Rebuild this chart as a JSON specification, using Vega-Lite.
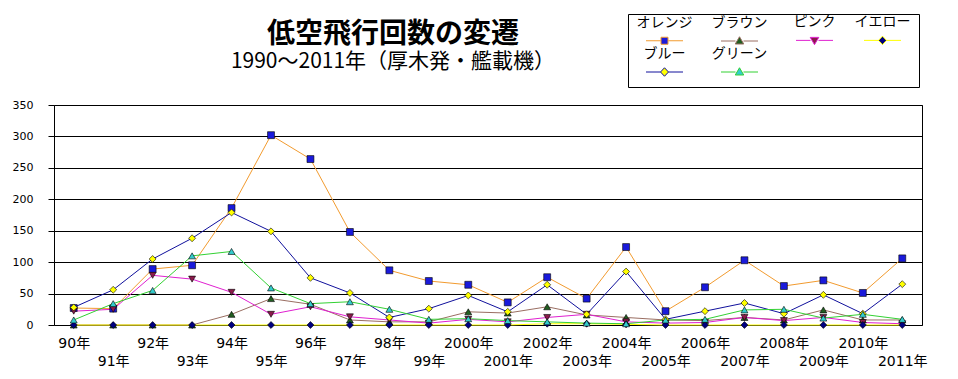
{
  "$schema": "https://vega.github.io/schema/vega-lite/v6.json",
  "width": 868,
  "height": 220,
  "autosize": "none",
  "padding": {"left": 54, "top": 105, "right": 36, "bottom": 54},
  "background": "white",
  "title": {
    "text": "低空飛行回数の変遷",
    "subtitle": "1990～2011年（厚木発・艦載機）",
    "anchor": "middle",
    "dx": -95,
    "offset": -58,
    "font": "Noto Sans CJK JP",
    "fontSize": 28,
    "fontWeight": "bold",
    "color": "black",
    "subtitleFont": "Noto Sans CJK JP",
    "subtitleFontSize": 21,
    "subtitleColor": "black",
    "subtitlePadding": 2
  },
  "data": {
    "values": [
      {"year": "90年", "オレンジ": 27, "ブラウン": 0, "ピンク": 22, "イエロー": 0, "ブルー": 28, "グリーン": 8},
      {"year": "91年", "オレンジ": 26, "ブラウン": 0, "ピンク": 25, "イエロー": 0, "ブルー": 56, "グリーン": 34},
      {"year": "92年", "オレンジ": 89, "ブラウン": 0, "ピンク": 79, "イエロー": 0, "ブルー": 105, "グリーン": 55},
      {"year": "93年", "オレンジ": 95, "ブラウン": 0, "ピンク": 73, "イエロー": 0, "ブルー": 138, "グリーン": 110},
      {"year": "94年", "オレンジ": 186, "ブラウン": 17, "ピンク": 52, "イエロー": 0, "ブルー": 179, "グリーン": 117},
      {"year": "95年", "オレンジ": 302, "ブラウン": 42, "ピンク": 17, "イエロー": 0, "ブルー": 149, "グリーン": 59},
      {"year": "96年", "オレンジ": 264, "ブラウン": 33, "ピンク": 29, "イエロー": 0, "ブルー": 75, "グリーン": 34},
      {"year": "97年", "オレンジ": 148, "ブラウン": 8, "ピンク": 13, "イエロー": 0, "ブルー": 51, "グリーン": 37},
      {"year": "98年", "オレンジ": 87, "ブラウン": 5, "ピンク": 8, "イエロー": 0, "ブルー": 12, "グリーン": 25},
      {"year": "99年", "オレンジ": 70, "ブラウン": 5, "ピンク": 3, "イエロー": 0, "ブルー": 26, "グリーン": 9},
      {"year": "2000年", "オレンジ": 64, "ブラウン": 21, "ピンク": 9, "イエロー": 0, "ブルー": 47, "グリーン": 10},
      {"year": "2001年", "オレンジ": 36, "ブラウン": 19, "ピンク": 5, "イエロー": 0, "ブルー": 21, "グリーン": 7},
      {"year": "2002年", "オレンジ": 76, "ブラウン": 29, "ピンク": 12, "イエロー": 2, "ブルー": 64, "グリーン": 5},
      {"year": "2003年", "オレンジ": 42, "ブラウン": 16, "ピンク": 17, "イエロー": 2, "ブルー": 17, "グリーン": 3},
      {"year": "2004年", "オレンジ": 124, "ブラウン": 12, "ピンク": 5, "イエロー": 1, "ブルー": 85, "グリーン": 2},
      {"year": "2005年", "オレンジ": 22, "ブラウン": 8, "ピンク": 3, "イエロー": 0, "ブルー": 9, "グリーン": 8},
      {"year": "2006年", "オレンジ": 60, "ブラウン": 7, "ピンク": 4, "イエロー": 0, "ブルー": 22, "グリーン": 9},
      {"year": "2007年", "オレンジ": 103, "ブラウン": 12, "ピンク": 12, "イエロー": 0, "ブルー": 35, "グリーン": 24},
      {"year": "2008年", "オレンジ": 62, "ブラウン": 8, "ピンク": 7, "イエロー": 0, "ブルー": 18, "グリーン": 25},
      {"year": "2009年", "オレンジ": 71, "ブラウン": 24, "ピンク": 12, "イエロー": 0, "ブルー": 48, "グリーン": 11},
      {"year": "2010年", "オレンジ": 51, "ブラウン": 8, "ピンク": 4, "イエロー": 0, "ブルー": 18, "グリーン": 17},
      {"year": "2011年", "オレンジ": 106, "ブラウン": 8, "ピンク": 2, "イエロー": 0, "ブルー": 65, "グリーン": 9}
    ]
  },
  "transform": [
    {"fold": ["オレンジ", "ブラウン", "ピンク", "イエロー", "ブルー", "グリーン"], "as": ["series", "value"]}
  ],
  "encoding": {
    "x": {
      "field": "year",
      "type": "ordinal",
      "sort": null,
      "scale": {"type": "point", "padding": 0.5},
      "axis": {
        "title": null,
        "domain": false,
        "ticks": false,
        "grid": false,
        "labelAngle": 0,
        "labelFont": "DejaVu Sans, Noto Sans CJK JP",
        "labelFontSize": 14,
        "labelColor": "black",
        "labelPadding": 11,
        "labelLineHeight": 18,
        "labelBaseline": "top",
        "labelOverlap": false,
        "labelBound": false,
        "labelExpr": "indexof(['91年','93年','95年','97年','99年','2001年','2003年','2005年','2007年','2009年','2011年'], datum.value) >= 0 ? ['', datum.label] : datum.label"
      }
    },
    "y": {
      "field": "value",
      "type": "quantitative",
      "scale": {"domain": [0, 350], "nice": false},
      "axis": {
        "title": null,
        "values": [0, 50, 100, 150, 200, 250, 300, 350],
        "domain": false,
        "grid": true,
        "gridColor": "black",
        "gridWidth": 1,
        "gridOpacity": 1,
        "ticks": true,
        "tickColor": "black",
        "tickSize": 6,
        "labelPadding": 15,
        "labelFont": "DejaVu Sans",
        "labelFontSize": 11,
        "labelColor": "black"
      }
    }
  },
  "layer": [
    {
      "mark": {"type": "line", "strokeWidth": 1},
      "encoding": {
        "stroke": {
          "field": "series",
          "type": "nominal",
          "scale": {
            "domain": ["オレンジ", "ブラウン", "ピンク", "イエロー", "ブルー", "グリーン"],
            "range": ["#f29b2f", "#9a6e62", "#e020d0", "#ffff00", "#10109c", "#33d133"]
          },
          "legend": {
            "orient": "none", "legendX": 574, "legendY": -91, "direction": "horizontal", "columns": 4, "title": null,
            "strokeColor": "black", "fillColor": "white", "padding": 8, "columnPadding": 18, "rowPadding": 0,
            "symbolSize": 100, "symbolStrokeWidth": 1,
            "labelFont": "Noto Sans CJK JP", "labelFontSize": 14, "labelColor": "black",
            "labelAlign": "center", "labelBaseline": "bottom",
            "encode": {
              "symbols": {"update": {
                "x": {"value": 28.5},
                "shape": {"signal": "datum.value === 'オレンジ' ? 'M-3.7,2.2H-0.75M0.75,2.2H3.7M-0.7,1.5H0.7V2.9H-0.7Z' : (datum.value === 'イエロー' || datum.value === 'ブルー') ? 'M-3.7,2.2H-0.8M0.8,2.2H3.7M0,1.35L0.8,2.2L0,3.05L-0.8,2.2Z' : datum.value === 'ピンク' ? 'M-3.7,2.2H-0.8M0.8,2.2H3.7M-0.85,1.6H0.85L0,3.05Z' : 'M-3.7,2.2H-0.8M0.8,2.2H3.7M0,1.35L0.85,2.8H-0.85Z'"},
                "strokeWidth": {"value": 1}
              }},
              "labels": {"update": {"x": {"value": 28.5}}}
            }
          }
        }
      }
    },
    {
      "mark": {"type": "point", "filled": true, "size": 48, "stroke": "black", "strokeWidth": 0.6, "opacity": 1},
      "encoding": {
        "shape": {
          "field": "series",
          "type": "nominal",
          "scale": {
            "domain": ["グリーン", "ブルー", "イエロー", "ピンク", "ブラウン", "オレンジ"],
            "range": ["triangle-up", "diamond", "diamond", "triangle-down", "triangle-up", "square"]
          },
          "legend": null
        },
        "fill": {
          "field": "series",
          "type": "nominal",
          "scale": {
            "domain": ["オレンジ", "ブラウン", "ピンク", "イエロー", "ブルー", "グリーン"],
            "range": ["#1a1adb", "#215e21", "#8a1a4a", "#000080", "#ffff00", "#33cccc"]
          },
          "legend": {
            "orient": "none", "legendX": 574, "legendY": -91, "direction": "horizontal", "columns": 4, "title": null,
            "strokeColor": "black", "fillColor": "white", "padding": 8, "columnPadding": 18, "rowPadding": 0,
            "symbolSize": 100, "symbolStrokeWidth": 1,
            "labelFont": "Noto Sans CJK JP", "labelFontSize": 14, "labelColor": "black",
            "labelAlign": "center", "labelBaseline": "bottom",
            "encode": {
              "symbols": {"update": {
                "x": {"value": 28.5},
                "shape": {"signal": "datum.value === 'オレンジ' ? 'M-3.7,2.2H-0.75M0.75,2.2H3.7M-0.7,1.5H0.7V2.9H-0.7Z' : (datum.value === 'イエロー' || datum.value === 'ブルー') ? 'M-3.7,2.2H-0.8M0.8,2.2H3.7M0,1.35L0.8,2.2L0,3.05L-0.8,2.2Z' : datum.value === 'ピンク' ? 'M-3.7,2.2H-0.8M0.8,2.2H3.7M-0.85,1.6H0.85L0,3.05Z' : 'M-3.7,2.2H-0.8M0.8,2.2H3.7M0,1.35L0.85,2.8H-0.85Z'"},
                "strokeWidth": {"value": 1}
              }},
              "labels": {"update": {"x": {"value": 28.5}}}
            }
          }
        }
      }
    }
  ],
  "config": {
    "view": {"stroke": "black", "strokeWidth": 1}
  }
}
